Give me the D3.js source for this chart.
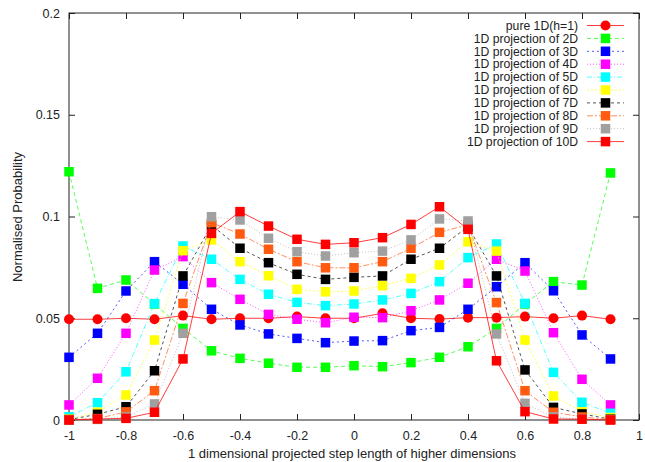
<!DOCTYPE html>
<html>
<head>
<meta charset="utf-8">
<script src="https://cdn.jsdelivr.net/npm/d3@7"></script>
<style>
  body { margin: 0; background: white; }
  text { font-family: "Liberation Sans", Arial, sans-serif; fill: #222; }
</style>
</head>
<body>
<svg id="chart" width="645" height="462"></svg>
<script>
// x positions of every point (step length)
var steps = [-1, -0.9, -0.8, -0.7, -0.6, -0.5, -0.4, -0.3, -0.2, -0.1, 0, 0.1, 0.2, 0.3, 0.4, 0.5, 0.6, 0.7, 0.8, 0.9];

var pure1D = [0.0495, 0.0495, 0.05, 0.0495, 0.0513, 0.0495, 0.05, 0.05, 0.0508, 0.05, 0.05, 0.0524, 0.05, 0.0496, 0.0503, 0.0503, 0.0508, 0.05, 0.0513, 0.0495];
var proj2D = [0.122, 0.0647, 0.0688, 0.057, 0.045, 0.034, 0.0303, 0.0279, 0.0259, 0.0259, 0.0267, 0.0262, 0.0282, 0.0308, 0.036, 0.045, 0.057, 0.068, 0.0663, 0.1214];
var proj3D = [0.0308, 0.0426, 0.0634, 0.0778, 0.0667, 0.0544, 0.0467, 0.0423, 0.0401, 0.038, 0.0388, 0.039, 0.0439, 0.0455, 0.0544, 0.0655, 0.0773, 0.0635, 0.0418, 0.03];
var proj4D = [0.0074, 0.0205, 0.0426, 0.0737, 0.0803, 0.0675, 0.0593, 0.0519, 0.0495, 0.0478, 0.0505, 0.0503, 0.0537, 0.059, 0.0672, 0.079, 0.0732, 0.0429, 0.02, 0.0074];
var proj5D = [0.0016, 0.0085, 0.0237, 0.0572, 0.0855, 0.079, 0.0691, 0.0618, 0.0578, 0.0562, 0.057, 0.059, 0.0622, 0.068, 0.0798, 0.0865, 0.0573, 0.0234, 0.0087, 0.0033];
var proj6D = [0.0005, 0.0038, 0.0123, 0.0393, 0.0832, 0.0885, 0.0778, 0.0709, 0.0642, 0.063, 0.0634, 0.066, 0.0696, 0.0762, 0.0876, 0.083, 0.0393, 0.0118, 0.004, 0.0012];
var proj7D = [0.0002, 0.0028, 0.0065, 0.0242, 0.0708, 0.0958, 0.0844, 0.0773, 0.0716, 0.0691, 0.0701, 0.0708, 0.079, 0.0844, 0.095, 0.0708, 0.0246, 0.0062, 0.003, 0.0004];
var proj8D = [0.0001, 0.0007, 0.004, 0.0144, 0.0573, 0.097, 0.0914, 0.0839, 0.0778, 0.0748, 0.0748, 0.0778, 0.0844, 0.0922, 0.096, 0.0577, 0.0144, 0.0038, 0.0015, 0.0002];
var proj9D = [0, 0.0003, 0.0015, 0.0079, 0.0426, 0.0999, 0.0983, 0.0893, 0.0827, 0.0806, 0.0822, 0.083, 0.0885, 0.0988, 0.0978, 0.0423, 0.0082, 0.0015, 0.0005, 0.0001];
var proj10D = [0, 0.0005, 0.0008, 0.0038, 0.03, 0.0917, 0.1024, 0.0953, 0.0888, 0.0863, 0.0871, 0.0896, 0.0961, 0.1048, 0.0937, 0.0291, 0.0041, 0.0005, 0.0004, 0];

var seriesNames = ["pure 1D(h=1)", "1D projection of 2D", "1D projection of 3D", "1D projection of 4D", "1D projection of 5D",
    "1D projection of 6D", "1D projection of 7D", "1D projection of 8D", "1D projection of 9D", "1D projection of 10D"];
var seriesValues = [pure1D, proj2D, proj3D, proj4D, proj5D, proj6D, proj7D, proj8D, proj9D, proj10D];
var seriesColors = ["#ff0000", "#00ff00", "#0000ff", "#ff00ff", "#00ffff", "#ffff00", "#000000", "#ff5a10", "#a0a0a0", "#ff0000"];
var seriesDash = [null, "4,3", "2,3", "1,2", "5,2,1,2", "2,2", "3,3", "6,2,2,2", "1,2", null];

var xTicks = [-1, -0.8, -0.6, -0.4, -0.2, 0, 0.2, 0.4, 0.6, 0.8, 1];
var yTicks = [0, 0.05, 0.1, 0.15, 0.2];

// plot frame (window.top is read only, so no plain "top")
var plotL = 69, plotR = 639, plotT = 13, plotB = 420;

var svg = d3.select("#chart");

var x = d3.scaleLinear().domain([-1, 1]).range([plotL, plotR]);
var y = d3.scaleLinear().domain([0, 0.2]).range([plotB, plotT]);

var fmt = function (d) { return String(+d.toFixed(2)); };

// axes, gnuplot style ticks pointing inwards on all four sides
svg.append("g")
    .attr("transform", "translate(0," + plotB + ")")
    .call(d3.axisBottom(x).tickValues(xTicks).tickSize(-6).tickPadding(11).tickFormat(fmt))
    .call(g => g.select(".domain").remove())
    .selectAll("text").style("font-size", "12.5px");

svg.append("g")
    .attr("transform", "translate(0," + plotT + ")")
    .call(d3.axisTop(x).tickValues(xTicks).tickSize(-6).tickFormat(""))
    .call(g => g.select(".domain").remove());

svg.append("g")
    .attr("transform", "translate(" + plotL + ",0)")
    .call(d3.axisLeft(y).tickValues(yTicks).tickSize(-6).tickPadding(9).tickFormat(fmt))
    .call(g => g.select(".domain").remove())
    .selectAll("text").style("font-size", "12.5px");

svg.append("g")
    .attr("transform", "translate(" + plotR + ",0)")
    .call(d3.axisRight(y).tickValues(yTicks).tickSize(-6).tickFormat(""))
    .call(g => g.select(".domain").remove());

svg.selectAll(".tick line").attr("stroke", "#222");

svg.append("rect")
    .attr("x", plotL).attr("y", plotT)
    .attr("width", plotR - plotL).attr("height", plotB - plotT)
    .attr("fill", "none").attr("stroke", "#222").attr("stroke-width", 1);

// axis titles
svg.append("text")
    .attr("x", 352).attr("y", 458)
    .attr("text-anchor", "middle")
    .style("font-size", "13px")
    .text("1 dimensional projected step length of higher dimensions");

svg.append("text")
    .attr("transform", "translate(22,217) rotate(-90)")
    .attr("text-anchor", "middle")
    .style("font-size", "13px")
    .text("Normalised Probability");

var line = d3.line()
    .x(function (d, i) { return x(steps[i]); })
    .y(function (d) { return y(d); });

var sq = 9.5;

// series lines + markers
seriesValues.forEach(function (vals, k) {
    var g = svg.append("g");
    g.append("path")
        .datum(vals)
        .attr("d", line)
        .attr("fill", "none")
        .attr("stroke", seriesColors[k])
        .attr("stroke-width", 0.9)
        .attr("stroke-opacity", seriesDash[k] ? 0.75 : 0.85)
        .attr("stroke-dasharray", seriesDash[k]);
    if (k == 0) {
        g.selectAll("circle").data(vals).enter().append("circle")
            .attr("cx", function (d, i) { return x(steps[i]); })
            .attr("cy", function (d) { return y(d); })
            .attr("r", 5)
            .attr("fill", seriesColors[k]);
    } else {
        g.selectAll("rect").data(vals).enter().append("rect")
            .attr("x", function (d, i) { return x(steps[i]) - sq / 2; })
            .attr("y", function (d) { return y(d) - sq / 2; })
            .attr("width", sq).attr("height", sq)
            .attr("fill", seriesColors[k]);
    }
});

// legend
var legend = svg.append("g");
seriesNames.forEach(function (name, k) {
    var ly = 25.5 + k * 12.9;
    legend.append("text")
        .attr("x", 578).attr("y", ly)
        .attr("dy", "0.35em")
        .attr("text-anchor", "end")
        .style("font-size", "12.2px")
        .text(name);
    legend.append("line")
        .attr("x1", 587).attr("x2", 624)
        .attr("y1", ly).attr("y2", ly)
        .attr("stroke", seriesColors[k])
        .attr("stroke-width", 0.9)
        .attr("stroke-opacity", seriesDash[k] ? 0.75 : 0.85)
        .attr("stroke-dasharray", seriesDash[k]);
    if (k == 0) {
        legend.append("circle").attr("cx", 605.5).attr("cy", ly).attr("r", 5).attr("fill", seriesColors[k]);
    } else {
        legend.append("rect").attr("x", 605.5 - sq / 2).attr("y", ly - sq / 2)
            .attr("width", sq).attr("height", sq).attr("fill", seriesColors[k]);
    }
});
</script>
</body>
</html>
